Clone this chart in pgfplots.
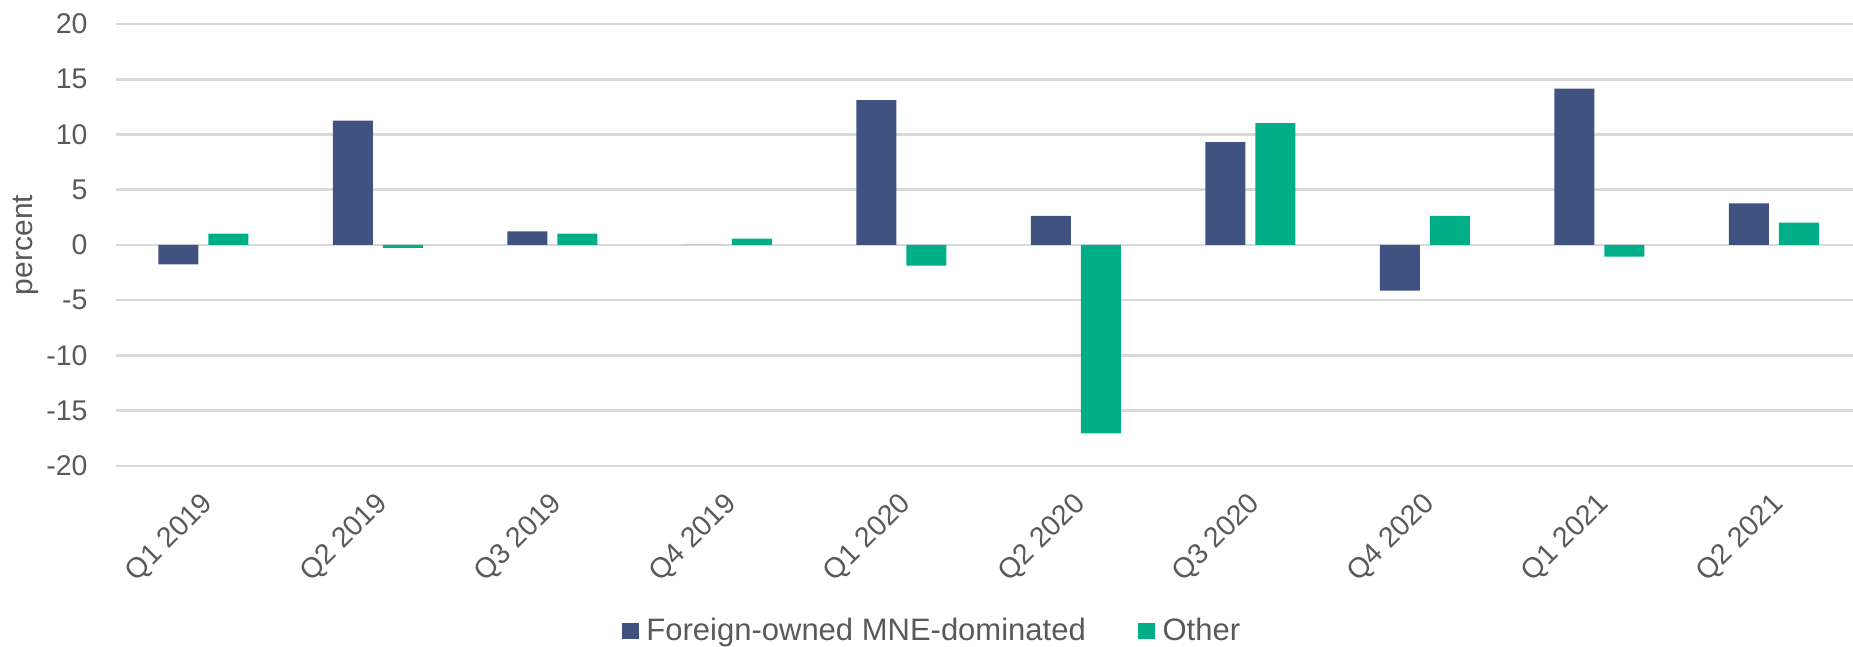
\documentclass[border=0pt]{standalone}
\usepackage{fontspec}
\setmainfont{Liberation Sans}
\usepackage{pgfplots}
\pgfplotsset{compat=1.18}
\definecolor{cblue}{RGB}{63,82,128}
\definecolor{cgreen}{RGB}{0,175,135}
\definecolor{ctext}{RGB}{89,89,89}
\definecolor{cgrid}{RGB}{217,217,217}
\begin{document}
\begin{tikzpicture}
\begin{axis}[
  scale only axis,
  width=698pt, height=176.8pt,
  ybar=4pt, bar width=16pt,
  xmin=-0.5, xmax=9.5,
  ymin=-20, ymax=20,
  ytick={-20,-15,...,20},
  xtick=data,
  xticklabels={Q1 2019,Q2 2019,Q3 2019,Q4 2019,Q1 2020,Q2 2020,Q3 2020,Q4 2020,Q1 2021,Q2 2021},
  major tick length=0pt,
  axis line style={draw=none},
  ymajorgrids, grid style={cgrid, line width=1pt},
  /pgf/number format/assume math mode=true,
  tick label style={font=\fontsize{11.4pt}{13pt}\selectfont, text=ctext},
  yticklabel style={anchor=east, inner sep=0pt, xshift=-11.2pt},
  xticklabel style={xshift=-1.4pt, yshift=-9.6pt, rotate=45, anchor=north east, inner sep=0pt},
  every axis y label/.style={at={([xshift=-36pt]axis description cs:0,0.5)}, rotate=90, anchor=center},
  ylabel={percent},
  label style={font=\fontsize{12pt}{14pt}\selectfont, text=ctext},
  legend columns=2,
  legend style={draw=none, fill=none, at={(0.4693,-0.3733)}, anchor=center,
    font=\fontsize{12.4pt}{14pt}\selectfont, text=ctext,
    /tikz/every even column/.append style={column sep=18pt},
    nodes={inner xsep=3pt}},
  legend image code/.code={\fill[#1] (0pt,-3.35pt) rectangle (6.7pt,3.35pt);},
]
\addplot[fill=cblue, draw=none] coordinates {(0,-1.75) (1,11.26) (2,1.24) (3,0) (4,13.12) (5,2.63) (6,9.32) (7,-4.13) (8,14.15) (9,3.77)};
\addplot[fill=cgreen, draw=none] coordinates {(0,1.03) (1,-0.27) (2,1.03) (3,0.58) (4,-1.87) (5,-17.04) (6,11.04) (7,2.63) (8,-1.05) (9,2.03)};
\legend{Foreign-owned MNE-dominated, Other}
\coordinate (ll) at (rel axis cs:0,0);
\coordinate (ur) at (rel axis cs:1,1);
\end{axis}
\pgfresetboundingbox
\path[use as bounding box] ([shift={(-46.4pt,-72.4pt)}]ll) rectangle ([shift={(-3.2pt,9.6pt)}]ur);
\end{tikzpicture}
\end{document}
